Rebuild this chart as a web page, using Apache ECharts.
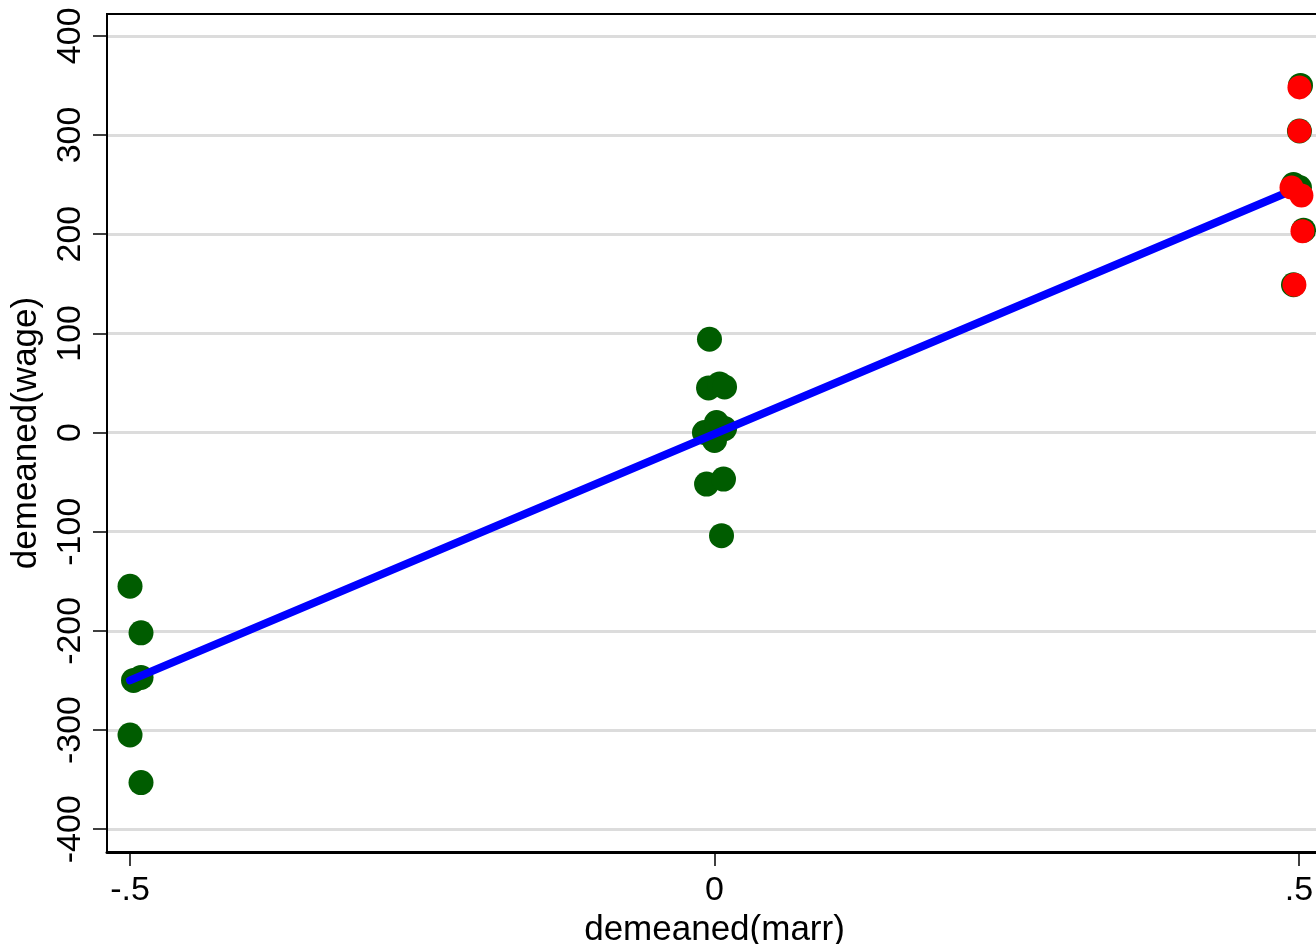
<!DOCTYPE html>
<html>
<head>
<meta charset="utf-8">
<script src="https://cdn.jsdelivr.net/npm/echarts@6/dist/echarts.min.js"></script>
<style>
html,body{margin:0;padding:0;background:#fff;}
#chart{width:1316px;height:944px;}
</style>
</head>
<body>
<div id="chart"></div>
<script>
// Data
const greenX = [-0.5, -0.4906, -0.497, -0.4906, -0.5, -0.4906,
  -0.0043, -0.0051, 0.0043, 0.0086, -0.0086, 0.0017, 0.0086, 0, -0.0068, 0.0077, 0.006,
  0.5013, 0.5004, 0.4953, 0.5004, 0.5039, 0.4953];
const greenY = [-155, -202, -250, -247, -305, -353,
  94, 45, 49, 46, 0, 10, 4, -8, -52, -47, -104,
  350, 304, 250, 247, 204, 149];
const redX = [0.5004, 0.5004, 0.4936, 0.5021, 0.503, 0.4961];
const redY = [348, 304, 247, 239, 203, 149];
const fitX = [-0.5, 0.5];
const fitY = [-250, 247];
const xTicks = [-0.5, 0, 0.5];
const xTickLabels = ['-.5', '0', '.5'];
const yTicks = [-400, -300, -200, -100, 0, 100, 200, 300, 400];
const xTitle = 'demeaned(marr)';
const yTitle = 'demeaned(wage)';

const FONT = '"Liberation Sans", Arial, sans-serif';
const zip = (a, b) => a.map((v, i) => [v, b[i]]);

const chart = echarts.init(document.getElementById('chart'), null, {renderer: 'canvas'});
chart.setOption({
  backgroundColor: '#ffffff',
  animation: false,
  grid: {
    left: 107, top: 14, width: 1215, height: 838,
    outerBoundsMode: 'none', containLabel: false,
    show: true, borderColor: '#000', borderWidth: 2, backgroundColor: 'transparent'
  },
  xAxis: {
    type: 'value', min: -0.5197, max: 0.5197,
    name: xTitle, nameLocation: 'middle', nameGap: 59,
    nameTextStyle: {fontFamily: FONT, fontSize: 35, color: '#000'},
    axisLine: {show: true, onZero: false, lineStyle: {color: '#000', width: 3}},
    axisTick: {show: true, customValues: xTicks, length: 14, lineStyle: {color: '#000', width: 1.5}},
    axisLabel: {
      customValues: xTicks, margin: 22, fontFamily: FONT, fontSize: 34, color: '#000',
      formatter: v => xTickLabels[xTicks.indexOf(v)] ?? ''
    },
    splitLine: {show: false}
  },
  yAxis: {
    type: 'value', min: -423, max: 422,
    name: yTitle, nameLocation: 'middle', nameGap: 63, nameRotate: 90,
    nameTextStyle: {fontFamily: FONT, fontSize: 35, color: '#000'},
    axisLine: {show: true, onZero: false, lineStyle: {color: '#000', width: 2}},
    axisTick: {show: true, customValues: yTicks, length: 14, lineStyle: {color: '#000', width: 1.5}},
    axisLabel: {customValues: yTicks, rotate: 90, margin: 19, fontFamily: FONT, fontSize: 34, color: '#000'},
    splitLine: {show: true, lineStyle: {color: '#dcdcdc', width: 3}}
  },
  series: [
    {
      type: 'scatter', name: 'all', data: zip(greenX, greenY),
      symbol: 'circle', symbolSize: 25, itemStyle: {color: '#005c00', opacity: 1}, z: 2
    },
    {
      type: 'line', name: 'fit', data: zip(fitX, fitY),
      showSymbol: false, symbol: 'none',
      lineStyle: {color: '#0000ff', width: 8, cap: 'round'}, z: 3
    },
    {
      type: 'scatter', name: 'married', data: zip(redX, redY),
      symbol: 'circle', symbolSize: 24, itemStyle: {color: '#ff0000', opacity: 1}, z: 4
    }
  ]
});
</script>
</body>
</html>
